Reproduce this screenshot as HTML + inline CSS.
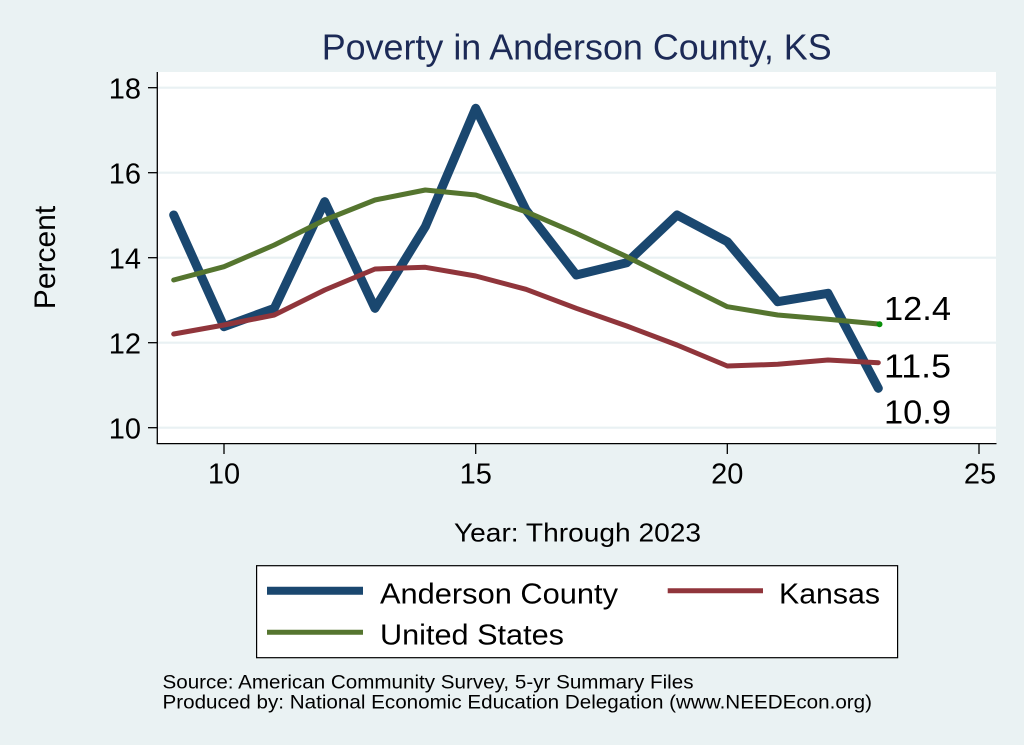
<!DOCTYPE html>
<html>
<head>
<meta charset="utf-8">
<style>
  html, body { margin:0; padding:0; background:#eaf2f3; }
  svg { display:block; }
  text { font-family: "Liberation Sans", Arial, sans-serif; }
</style>
</head>
<body>
<svg width="1024" height="745" viewBox="0 0 1024 745" xmlns="http://www.w3.org/2000/svg">
  <rect x="0" y="0" width="1024" height="745" fill="#eaf2f3"/>

  <!-- Title -->
  <text x="321.7" y="59.3" font-size="36" fill="#1c2a56" textLength="510" lengthAdjust="spacingAndGlyphs">Poverty in Anderson County, KS</text>

  <!-- Plot region -->
  <rect x="157.3" y="72" width="838.7" height="371.5" fill="#ffffff"/>

  <!-- Gridlines -->
  <g stroke="#e9f1f3" stroke-width="2.2">
    <line x1="158" y1="87.7" x2="996" y2="87.7"/>
    <line x1="158" y1="172.7" x2="996" y2="172.7"/>
    <line x1="158" y1="257.7" x2="996" y2="257.7"/>
    <line x1="158" y1="342.7" x2="996" y2="342.7"/>
    <line x1="158" y1="427.7" x2="996" y2="427.7"/>
  </g>

  <!-- Axes -->
  <g stroke="#000" stroke-width="1.3" fill="none">
    <line x1="157.3" y1="72" x2="157.3" y2="444"/>
    <line x1="156.7" y1="443.6" x2="996.5" y2="443.6"/>
    <!-- y ticks -->
    <line x1="148" y1="87.7" x2="157.3" y2="87.7"/>
    <line x1="148" y1="172.7" x2="157.3" y2="172.7"/>
    <line x1="148" y1="257.7" x2="157.3" y2="257.7"/>
    <line x1="148" y1="342.7" x2="157.3" y2="342.7"/>
    <line x1="148" y1="427.7" x2="157.3" y2="427.7"/>
    <!-- x ticks -->
    <line x1="224" y1="443.6" x2="224" y2="454"/>
    <line x1="475.7" y1="443.6" x2="475.7" y2="454"/>
    <line x1="727.3" y1="443.6" x2="727.3" y2="454"/>
    <line x1="979" y1="443.6" x2="979" y2="454"/>
  </g>

  <!-- Y tick labels -->
  <g font-size="29" fill="#000" text-anchor="end">
    <text x="141" y="98.7">18</text>
    <text x="141" y="183.7">16</text>
    <text x="141" y="268.7">14</text>
    <text x="141" y="353.7">12</text>
    <text x="141" y="438.7">10</text>
  </g>

  <!-- X tick labels -->
  <g font-size="29" fill="#000" text-anchor="middle">
    <text x="224" y="483.3">10</text>
    <text x="475.7" y="483.3">15</text>
    <text x="727.3" y="483.3">20</text>
    <text x="980" y="483.3">25</text>
  </g>

  <!-- Y axis title -->
  <text transform="translate(55,257.5) rotate(-90)" font-size="30" fill="#000" text-anchor="middle">Percent</text>

  <!-- X axis title -->
  <text x="454" y="541.7" font-size="26" fill="#000" textLength="247" lengthAdjust="spacingAndGlyphs">Year: Through 2023</text>

  <!-- Series -->
  <polyline fill="none" stroke="#1a476f" stroke-width="9" stroke-linejoin="round" stroke-linecap="round"
    points="173.7,215 224,326.7 274.3,308.3 324.7,201.7 375,308.3 425.3,226.7 475.7,108.3 526,210 576.3,275 626.7,262.7 677,215 727.3,241.7 777.7,301.7 828,293.3 878.3,388.3"/>
  <polyline fill="none" stroke="#90353b" stroke-width="5" stroke-linejoin="round" stroke-linecap="round"
    points="173.7,334 224,325 274.3,315 324.7,290 375,269 425.3,267.3 475.7,276 526,289.3 576.3,308.3 626.7,326 677,345 727.3,366 777.7,364.3 828,360 878.3,362.7"/>
  <polyline fill="none" stroke="#55752f" stroke-width="5" stroke-linejoin="round" stroke-linecap="round"
    points="173.7,280 224,266.7 274.3,245 324.7,220 375,200 425.3,190 475.7,195 526,211.7 576.3,233.3 626.7,256.7 677,281.7 727.3,306.7 777.7,315 828,319.3 878.3,324"/>
  <circle cx="879.5" cy="324.2" r="3" fill="#0a8f0a"/>

  <!-- End labels -->
  <g font-size="33" fill="#000">
    <text x="884" y="320" textLength="67" lengthAdjust="spacingAndGlyphs">12.4</text>
    <text x="884" y="377.3" textLength="67" lengthAdjust="spacingAndGlyphs">11.5</text>
    <text x="884" y="423.3" textLength="67" lengthAdjust="spacingAndGlyphs">10.9</text>
  </g>

  <!-- Legend -->
  <rect x="256.6" y="565.7" width="641" height="92" fill="#ffffff" stroke="#000" stroke-width="1.2"/>
  <line x1="267" y1="590.7" x2="363" y2="590.7" stroke="#1a476f" stroke-width="8"/>
  <line x1="667.7" y1="590.7" x2="763" y2="590.7" stroke="#90353b" stroke-width="5"/>
  <line x1="267" y1="632.3" x2="363" y2="632.3" stroke="#55752f" stroke-width="5"/>
  <g font-size="29" fill="#000">
    <text x="380" y="603.3" textLength="238" lengthAdjust="spacingAndGlyphs">Anderson County</text>
    <text x="779" y="603.3" textLength="101" lengthAdjust="spacingAndGlyphs">Kansas</text>
    <text x="380" y="644.3" textLength="184" lengthAdjust="spacingAndGlyphs">United States</text>
  </g>

  <!-- Notes -->
  <g font-size="19" fill="#000">
    <text x="162.5" y="688.3" textLength="531" lengthAdjust="spacingAndGlyphs">Source: American Community Survey, 5-yr Summary Files</text>
    <text x="162.5" y="708.3" textLength="709.5" lengthAdjust="spacingAndGlyphs">Produced by: National Economic Education Delegation (www.NEEDEcon.org)</text>
  </g>
</svg>
</body>
</html>
